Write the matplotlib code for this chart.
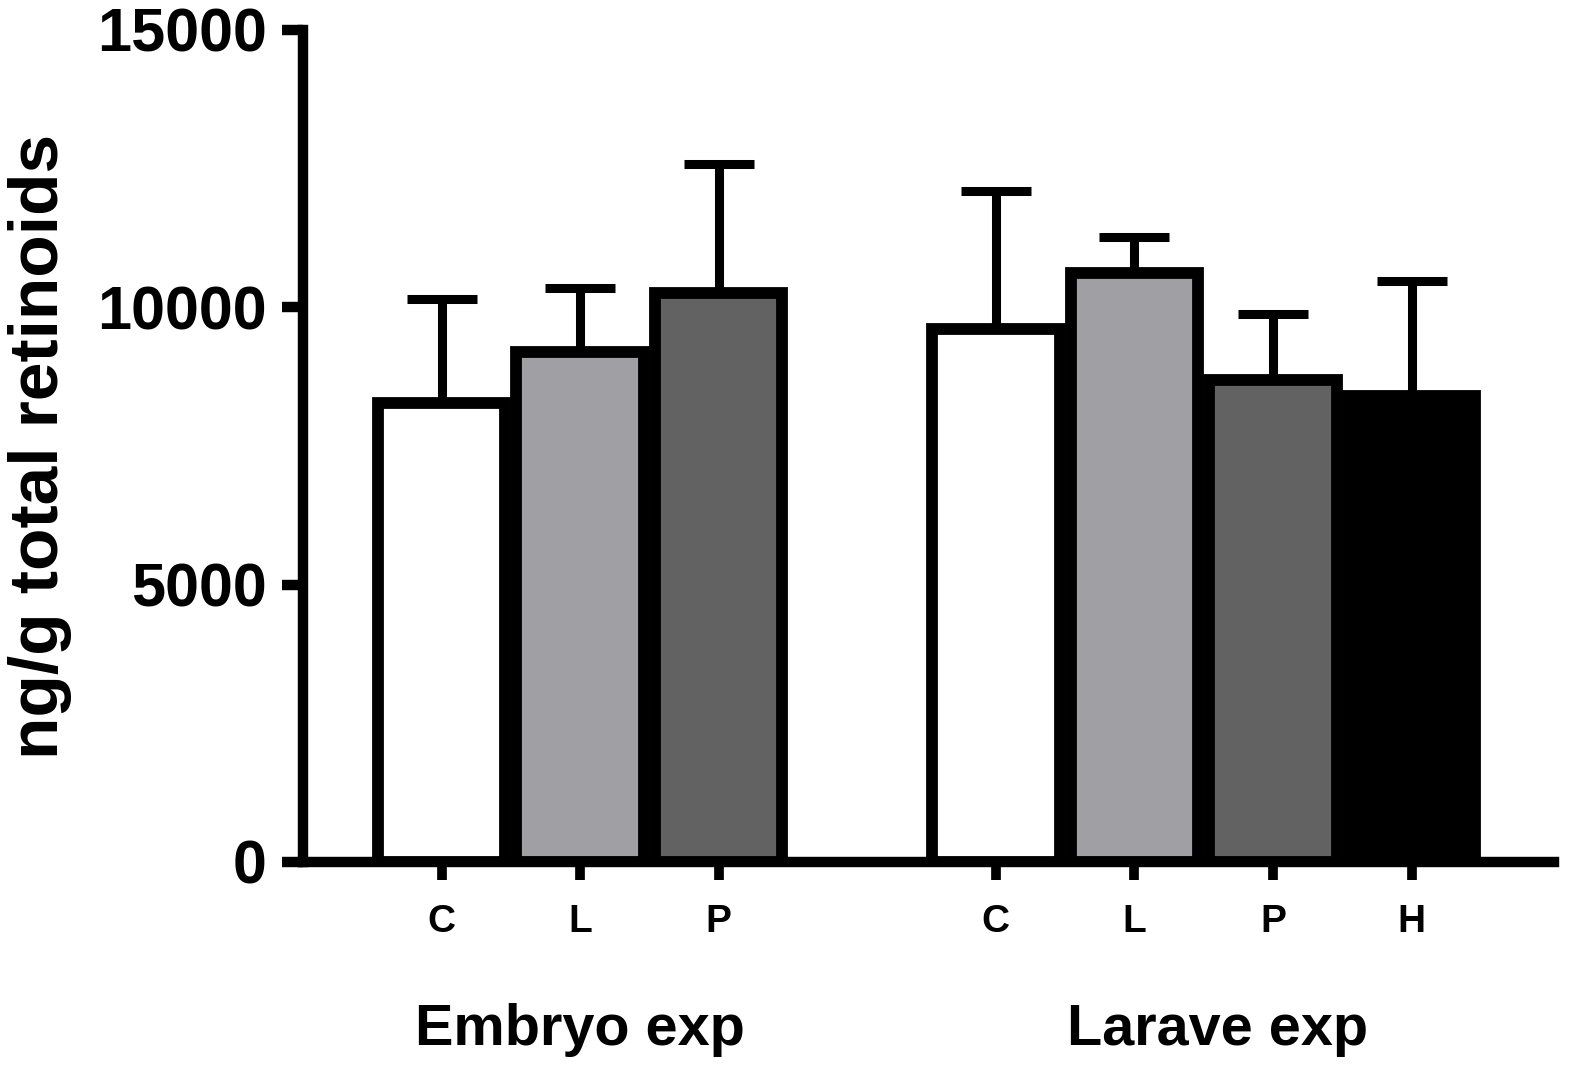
'''Total retinoids per group, embryo and larvae experiments.'''
import numpy as np
from matplotlib import pyplot as plt

# ==============================
# DATA
tick_labels = ['C', 'L', 'P', 'C', 'L', 'P', 'H']
group_names = ['Embryo exp', 'Larave exp']
means = [8270, 9190, 10260, 9610, 10620, 8690, 8400]
upper_err = [1880, 1160, 2330, 2480, 640, 1190, 2070]
bar_colours = ['#ffffff', '#a0a0a4', '#626262',
               '#ffffff', '#a0a0a4', '#626262', '#000000']
positions = [0, 1, 2, 4, 5, 6, 7]
group_centres = [1, 5.6]

# ==============================
plt.rcParams['font.family'] = ['Liberation Sans', 'DejaVu Sans']
plt.rcParams['font.weight'] = 'bold'

fig = plt.figure(figsize=(15.7, 10.66), dpi=100)
ax = fig.add_axes([0.193, 0.1914, 0.797, 0.7805])

# error bars first so the bars hide the lower half
ax.errorbar(positions, means, yerr=[np.zeros(len(means)), upper_err],
            fmt='none', ecolor='black', elinewidth=6.5,
            capsize=25, capthick=6.5, zorder=1)
ax.bar(positions, means, width=0.92, color=bar_colours,
       edgecolor='black', linewidth=8.5, zorder=2)

ax.set_xlim(-1, 8.03)
ax.set_ylim(0, 15000)
ax.set_yticks([0, 5000, 10000, 15000])
ax.set_xticks(positions)
ax.set_xticklabels(tick_labels)

for side in ('top', 'right'):
    ax.spines[side].set_visible(False)
for side in ('left', 'bottom'):
    ax.spines[side].set_linewidth(7.5)
    ax.spines[side].set_zorder(3)

ax.tick_params(axis='y', length=15, width=7.5, pad=11, labelsize=44)
ax.tick_params(axis='x', length=13, width=7, pad=17, labelsize=28)
for lbl in ax.get_xticklabels() + ax.get_yticklabels():
    lbl.set_fontweight('bold')

# Group labels under the ticks
for centre, name in zip(group_centres, group_names):
    ax.text(centre, -0.202, name, transform=ax.get_xaxis_transform(),
            ha='center', va='center', fontsize=41.5, fontweight='bold')

fig.text(40 / 1570, 0.5816, 'ng/g total retinoids', rotation=90,
         ha='center', va='center', fontsize=50, fontweight='bold')

fig.savefig('out.png', dpi=100, facecolor='white')
